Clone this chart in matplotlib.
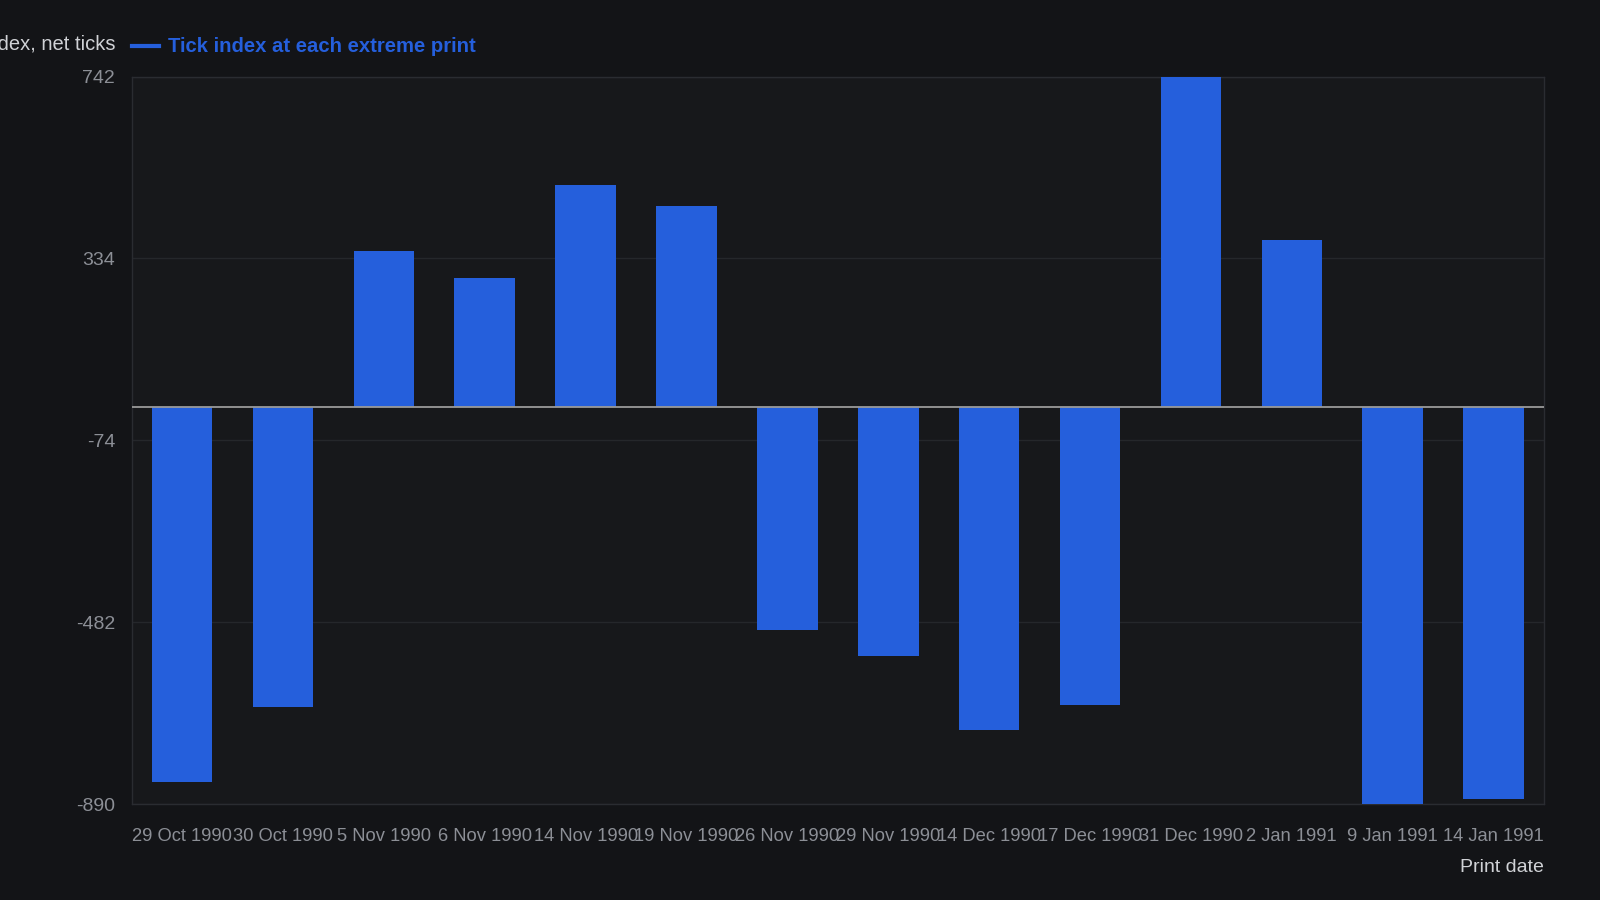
import matplotlib.pyplot as plt
import numpy as np

dates = ['29 Oct 1990', '30 Oct 1990', '5 Nov 1990', '6 Nov 1990', '14 Nov 1990',
         '19 Nov 1990', '26 Nov 1990', '29 Nov 1990', '14 Dec 1990', '17 Dec 1990',
         '31 Dec 1990', '2 Jan 1991', '9 Jan 1991', '14 Jan 1991']
tick_index = [-840, -673, 350, 291, 499, 451, -499, -558, -723, -668,
              742, 375, -890, -879]
y_ticks = [742, 334, -74, -482, -890]

bg = '#131417'
panel = '#17181b'
bar_color = '#255fdc'

plt.rcParams['font.family'] = ['Liberation Sans', 'DejaVu Sans']

fig = plt.figure(figsize=(16, 9), dpi=100, facecolor=bg)
ax = fig.add_axes([0.0823, 0.1066, 0.965 - 0.0823, 0.915 - 0.1066])
ax.set_facecolor(panel)

x = np.arange(len(dates))
ax.bar(x, tick_index, width=0.6, color=bar_color, zorder=3)
ax.axhline(0, color='#9a9a9a', linewidth=1.3, zorder=4)

ax.set_xlim(-0.5, len(dates) - 0.5)
ax.set_ylim(-890, 742)
ax.set_yticks(y_ticks)
ax.set_yticklabels([str(v) for v in y_ticks])
ax.set_xticks(x)
ax.set_xticklabels(dates)
ax.grid(axis='y', color='#25272b', linewidth=1, zorder=0)
ax.tick_params(axis='both', length=0, colors='#8c8f96')
ax.tick_params(axis='y', labelsize=14, pad=12)
ax.tick_params(axis='x', labelsize=13.2, pad=17)
for s in ax.spines.values():
    s.set_color('#2a2c31')
    s.set_linewidth(1)

fig.text(0.0723, 0.951, 'Tick index, net ticks', ha='right', va='center',
         color='#d0d2d6', fontsize=14.5)
fig.add_artist(plt.Line2D([0.0825, 0.0995], [0.949, 0.949], color=bar_color,
                          linewidth=3, transform=fig.transFigure))
fig.text(0.105, 0.948, 'Tick index at each extreme print', ha='left', va='center',
         color=bar_color, fontsize=14.6, fontweight='bold')
fig.text(0.965, 0.036, 'Print date', ha='right', va='center',
         color='#d0d2d6', fontsize=14)

fig.savefig('out.png', dpi=100, facecolor=bg)
